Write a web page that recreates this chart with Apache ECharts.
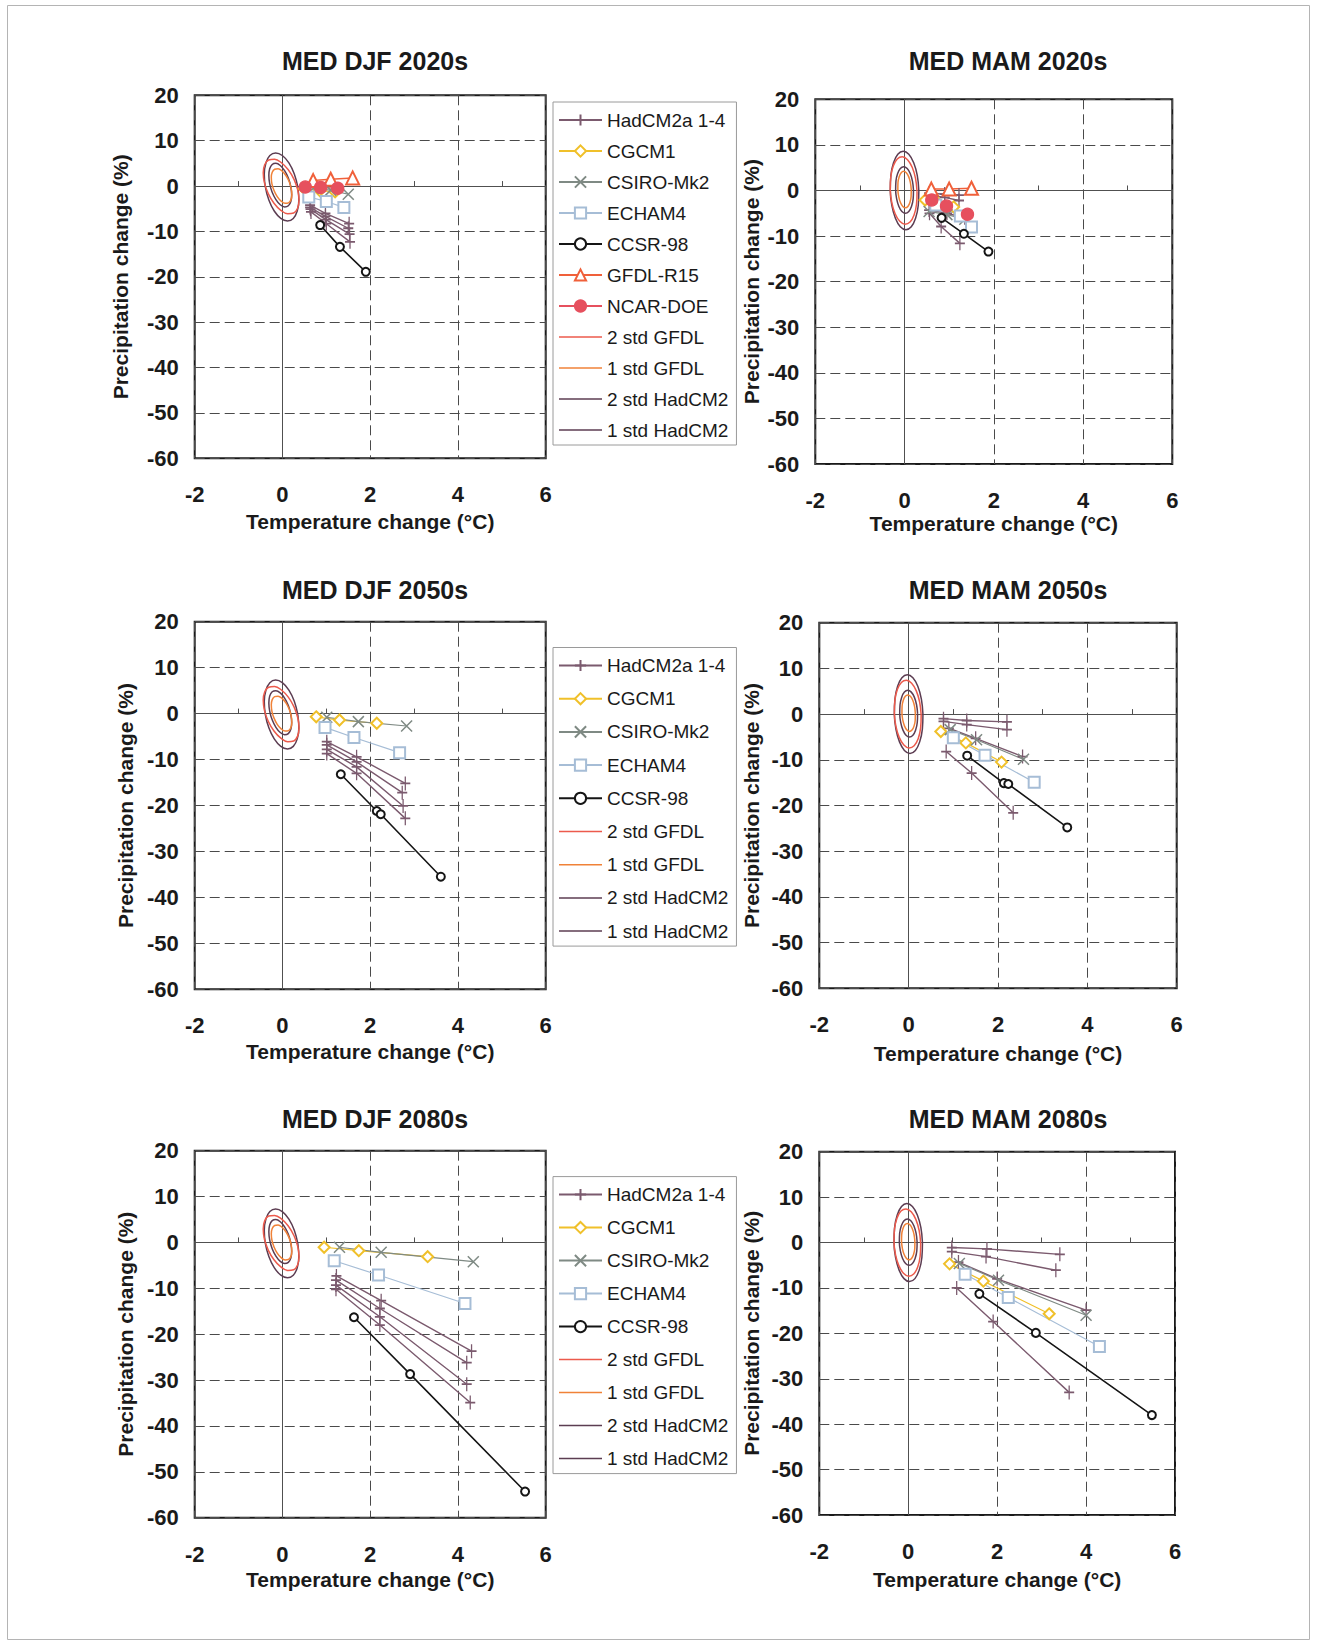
<!DOCTYPE html>
<html>
<head>
<meta charset="utf-8">
<script src="https://cdn.jsdelivr.net/npm/echarts@6/dist/echarts.min.js"></script>
<style>
  html, body { margin: 0; padding: 0; background: #ffffff; }
  #chart { width: 1317px; height: 1643px; }
</style>
</head>
<body>
<div id="chart"></div>
<script>
// ---- Axis ranges -------------------------------------------------------
const tempTicks = [-2, 0, 2, 4, 6];                             // temperature change, °C
const precipTicks = [-60, -50, -40, -30, -20, -10, 0, 10, 20];  // precipitation change, %

// ---- Natural-variability contours (temperature °C, precipitation %) ----
// Winter (DJF)
const djfStd2HadCM2 = [[0.35, -0.2], [0.374, -3.07], [0.337, -5.5], [0.247, -7.13], [0.115, -7.7], [-0.037, -7.13], [-0.187, -5.5], [-0.31, -3.07],
  [-0.39, -0.2], [-0.414, 2.67], [-0.377, 5.1], [-0.287, 6.73], [-0.155, 7.3], [-0.003, 6.73], [0.147, 5.1], [0.27, 2.67], [0.35, -0.2]];
const djfStd2GFDL = [[0.35, -0.9], [0.378, -3.14], [0.345, -4.91], [0.255, -5.95], [0.12, -6.1], [-0.037, -5.34], [-0.193, -3.78], [-0.324, -1.66],
  [-0.41, 0.7], [-0.438, 2.94], [-0.405, 4.71], [-0.315, 5.75], [-0.18, 5.9], [-0.023, 5.14], [0.133, 3.58], [0.264, 1.46], [0.35, -0.9]];
const djfStd1HadCM2 = [[0.19, -0.1], [0.21, -1.92], [0.191, -3.41], [0.134, -4.35], [0.05, -4.6], [-0.05, -4.12], [-0.149, -2.98], [-0.234, -1.36],
  [-0.29, 0.5], [-0.31, 2.32], [-0.291, 3.81], [-0.234, 4.75], [-0.15, 5.0], [-0.05, 4.52], [0.049, 3.38], [0.134, 1.76], [0.19, -0.1]];
const djfStd1GFDL = [[0.20, -0.5], [0.214, -1.92], [0.193, -3.04], [0.138, -3.7], [0.06, -3.8], [-0.03, -3.32], [-0.119, -2.33], [-0.192, -0.99],
  [-0.24, 0.5], [-0.254, 1.92], [-0.233, 3.04], [-0.178, 3.7], [-0.10, 3.8], [-0.01, 3.32], [0.079, 2.33], [0.152, 0.99], [0.20, -0.5]];
// Spring (MAM)
const mamStd2HadCM2 = [[0.32, 0], [0.307, -3.29], [0.247, -6.08], [0.151, -7.95], [0.03, -8.6], [-0.095, -7.95], [-0.205, -6.08], [-0.285, -3.29],
  [-0.32, 0], [-0.307, 3.29], [-0.247, 6.08], [-0.151, 7.95], [-0.03, 8.6], [0.095, 7.95], [0.205, 6.08], [0.285, 3.29], [0.32, 0]];
const mamStd2GFDL = [[0.28, -0.2], [0.268, -3.02], [0.213, -5.37], [0.123, -6.92], [0.01, -7.4], [-0.107, -6.76], [-0.211, -5.09], [-0.286, -2.65],
  [-0.32, 0.2], [-0.308, 3.02], [-0.253, 5.37], [-0.163, 6.92], [-0.05, 7.4], [0.067, 6.76], [0.171, 5.09], [0.246, 2.65], [0.28, -0.2]];
const mamStd1HadCM2 = [[0.20, 0.1], [0.193, -1.85], [0.155, -3.51], [0.095, -4.61], [0.02, -5.0], [-0.059, -4.61], [-0.127, -3.51], [-0.177, -1.85],
  [-0.20, 0.1], [-0.193, 2.05], [-0.155, 3.71], [-0.095, 4.81], [-0.02, 5.2], [0.059, 4.81], [0.127, 3.71], [0.177, 2.05], [0.20, 0.1]];
const mamStd1GFDL = [[0.15, 0.2], [0.147, -1.33], [0.12, -2.63], [0.075, -3.5], [0.02, -3.8], [-0.039, -3.5], [-0.092, -2.63], [-0.131, -1.33],
  [-0.15, 0.2], [-0.147, 1.73], [-0.12, 3.03], [-0.075, 3.9], [-0.02, 4.2], [0.039, 3.9], [0.092, 3.03], [0.131, 1.73], [0.15, 0.2]];

// ---- Model projections: [temperature change °C, precipitation change %] ----
// MED DJF 2020s
const djf2020HadCM2a = [
  [[0.63, -4.2], [0.98, -6.0], [1.52, -8.3]],
  [[0.63, -4.7], [0.98, -6.7], [1.50, -9.3]],
  [[0.64, -5.1], [0.99, -7.4], [1.53, -10.6]],
  [[0.65, -5.7], [1.00, -8.3], [1.54, -12.3]]
];
const djf2020CGCM1  = [[0.50, -0.6], [0.85, -1.0], [1.20, -1.3]];
const djf2020CSIRO  = [[0.70, -0.5], [1.10, -0.9], [1.50, -1.8]];
const djf2020ECHAM4 = [[0.60, -2.4], [1.00, -3.4], [1.40, -4.7]];
const djf2020CCSR   = [[0.86, -8.6], [1.31, -13.4], [1.90, -18.9]];
const djf2020GFDL   = [[0.70, 1.2], [1.10, 1.5], [1.60, 1.8]];
const djf2020NCAR   = [[0.52, -0.2], [0.87, -0.3], [1.26, -0.5]];

// MED MAM 2020s
const mam2020HadCM2a = [
  [[0.55, -0.6], [0.90, -0.8], [1.22, -1.0]],
  [[0.57, -1.1], [0.90, -1.5], [1.22, -2.2]],
  [[0.55, -4.3], [0.95, -5.0], [1.35, -6.0]],
  [[0.56, -5.0], [0.82, -7.9], [1.24, -11.6]]
];
const mam2020CGCM1  = [[0.46, -2.1], [0.75, -2.8], [1.10, -3.6]];
const mam2020CSIRO  = [[0.55, -4.6], [0.95, -5.3], [1.35, -6.3]];
const mam2020ECHAM4 = [[0.70, -3.2], [1.25, -5.6], [1.50, -8.0]];
const mam2020CCSR   = [[0.83, -6.0], [1.33, -9.5], [1.88, -13.4]];
const mam2020GFDL   = [[0.60, 0.3], [1.00, 0.3], [1.50, 0.5]];
const mam2020NCAR   = [[0.61, -2.1], [0.94, -3.4], [1.41, -5.2]];

// MED DJF 2050s
const djf2050HadCM2a = [
  [[1.01, -6.1], [1.69, -9.4], [2.80, -15.2]],
  [[1.01, -6.8], [1.69, -10.5], [2.73, -17.2]],
  [[1.01, -7.8], [1.69, -11.6], [2.75, -20.1]],
  [[1.01, -8.7], [1.69, -13.0], [2.80, -22.8]]
];
const djf2050CGCM1  = [[0.77, -0.7], [1.30, -1.4], [2.15, -2.1]];
const djf2050CSIRO  = [[1.01, -0.8], [1.73, -1.75], [2.83, -2.7]];
const djf2050ECHAM4 = [[0.97, -3.0], [1.63, -5.2], [2.67, -8.5]];
const djf2050CCSR   = [[1.33, -13.2], [2.15, -21.2], [2.24, -21.9], [3.61, -35.5]];

// MED MAM 2050s
const mam2050HadCM2a = [
  [[0.78, -1.0], [1.30, -1.4], [2.20, -1.7]],
  [[0.78, -1.6], [1.30, -2.3], [2.20, -3.4]],
  [[0.90, -3.1], [1.50, -5.3], [2.55, -9.3]],
  [[0.84, -8.2], [1.41, -12.9], [2.34, -21.6]]
];
const mam2050CGCM1  = [[0.72, -3.8], [1.28, -6.3], [2.08, -10.5]];
const mam2050CSIRO  = [[0.93, -3.4], [1.52, -5.6], [2.57, -9.9]];
const mam2050ECHAM4 = [[1.00, -5.2], [1.71, -9.0], [2.81, -14.9]];
const mam2050CCSR   = [[1.31, -9.1], [2.13, -15.1], [2.23, -15.3], [3.55, -24.8]];

// MED DJF 2080s
const djf2080HadCM2a = [
  [[1.23, -7.3], [2.25, -12.7], [4.31, -23.7]],
  [[1.22, -8.2], [2.22, -14.4], [4.20, -26.2]],
  [[1.22, -9.3], [2.22, -16.2], [4.20, -30.9]],
  [[1.22, -10.2], [2.22, -18.0], [4.28, -34.9]]
];
const djf2080CGCM1  = [[0.95, -1.05], [1.74, -1.8], [3.31, -3.1]];
const djf2080CSIRO  = [[1.30, -1.05], [2.25, -2.15], [4.35, -4.2]];
const djf2080ECHAM4 = [[1.18, -4.0], [2.19, -7.1], [4.16, -13.3]];
const djf2080CCSR   = [[1.63, -16.3], [2.91, -28.7], [5.53, -54.3]];

// MED MAM 2080s
const mam2080HadCM2a = [
  [[0.98, -1.1], [1.77, -1.4], [3.41, -2.6]],
  [[0.98, -2.0], [1.75, -3.1], [3.32, -6.1]],
  [[1.13, -4.3], [2.00, -8.0], [4.00, -14.9]],
  [[1.09, -10.0], [1.91, -17.4], [3.62, -33.0]]
];
const mam2080CGCM1  = [[0.93, -4.7], [1.69, -8.5], [3.17, -15.7]];
const mam2080CSIRO  = [[1.15, -4.6], [2.03, -8.3], [4.00, -16.0]];
const mam2080ECHAM4 = [[1.28, -7.0], [2.25, -12.1], [4.30, -22.9]];
const mam2080CCSR   = [[1.60, -11.3], [2.87, -19.9], [5.48, -38.0]];

// ---- Legend entries ----------------------------------------------------
const legendAll = ['HadCM2a 1-4', 'CGCM1', 'CSIRO-Mk2', 'ECHAM4', 'CCSR-98', 'GFDL-R15', 'NCAR-DOE',
                   '2 std GFDL', '1 std GFDL', '2 std HadCM2', '1 std HadCM2'];
const legendNoR15 = ['HadCM2a 1-4', 'CGCM1', 'CSIRO-Mk2', 'ECHAM4', 'CCSR-98',
                     '2 std GFDL', '1 std GFDL', '2 std HadCM2', '1 std HadCM2'];

// ---- Styling -----------------------------------------------------------
const FONT = "'Liberation Sans', Arial, Helvetica, sans-serif";
const INK = '#1a1a1a';

const PLUS = 'path://M0,-6L0,6M-4,0L4,0';
const CROSS = 'path://M-5,-5L5,5M-5,5L5,-5';
const BAR = 'path://M0,0H40V1.4H0Z';

const styles = {
  'HadCM2a 1-4': { color: '#7b5a6e', width: 1.4, symbol: PLUS, size: [10, 14], stroke: true },
  'CGCM1':       { color: '#f0c02a', width: 1.2, symbol: 'emptyDiamond', size: 11 },
  'CSIRO-Mk2':   { color: '#7f8a84', width: 1.2, symbol: CROSS, size: 11, stroke: true },
  'ECHAM4':      { color: '#a6bdd6', width: 1.2, symbol: 'emptyRect', size: 11 },
  'CCSR-98':     { color: '#151515', width: 1.6, symbol: 'emptyCircle', size: 8 },
  'GFDL-R15':    { color: '#f0603a', width: 1.5, symbol: 'emptyTriangle', size: 13 },
  'NCAR-DOE':    { color: '#e6505e', width: 1.5, symbol: 'circle', size: 12 },
  '2 std GFDL':  { color: '#ec5a4c', width: 1.5 },
  '1 std GFDL':  { color: '#f08238', width: 1.5 },
  '2 std HadCM2':{ color: '#5c3d52', width: 1.5 },
  '1 std HadCM2':{ color: '#5c3d52', width: 1.5 }
};

// ---- Panel layout ------------------------------------------------------
const panels = [
  { title: 'MED DJF 2020s', grid: { left: 194.7, top: 95.3, width: 351, height: 363 },
    titleX: 375, titleY: 61, yNameX: 120.5, xNameY: 521,
    contours: [djfStd2HadCM2, djfStd2GFDL, djfStd1HadCM2, djfStd1GFDL],
    had: djf2020HadCM2a, cgcm: djf2020CGCM1, csiro: djf2020CSIRO, echam: djf2020ECHAM4, ccsr: djf2020CCSR,
    gfdl: djf2020GFDL, ncar: djf2020NCAR,
    legend: { data: legendAll, top: 102, gap: 11 } },
  { title: 'MED MAM 2020s', grid: { left: 815.3, top: 99.3, width: 357, height: 364.7 },
    titleX: 1008, titleY: 61, yNameX: 751, xNameY: 523,
    contours: [mamStd2HadCM2, mamStd2GFDL, mamStd1HadCM2, mamStd1GFDL],
    had: mam2020HadCM2a, cgcm: mam2020CGCM1, csiro: mam2020CSIRO, echam: mam2020ECHAM4, ccsr: mam2020CCSR,
    gfdl: mam2020GFDL, ncar: mam2020NCAR },
  { title: 'MED DJF 2050s', grid: { left: 194.7, top: 621.7, width: 351, height: 367.6 },
    titleX: 375, titleY: 590, yNameX: 125.7, xNameY: 1051,
    contours: [djfStd2HadCM2, djfStd2GFDL, djfStd1HadCM2, djfStd1GFDL],
    had: djf2050HadCM2a, cgcm: djf2050CGCM1, csiro: djf2050CSIRO, echam: djf2050ECHAM4, ccsr: djf2050CCSR,
    legend: { data: legendNoR15, top: 647.5, gap: 13.2 } },
  { title: 'MED MAM 2050s', grid: { left: 819.3, top: 622.7, width: 357.4, height: 365.6 },
    titleX: 1008, titleY: 590, yNameX: 751, xNameY: 1053,
    contours: [mamStd2HadCM2, mamStd2GFDL, mamStd1HadCM2, mamStd1GFDL],
    had: mam2050HadCM2a, cgcm: mam2050CGCM1, csiro: mam2050CSIRO, echam: mam2050ECHAM4, ccsr: mam2050CCSR },
  { title: 'MED DJF 2080s', grid: { left: 194.7, top: 1150.7, width: 351, height: 367 },
    titleX: 375, titleY: 1119, yNameX: 125.7, xNameY: 1579,
    contours: [djfStd2HadCM2, djfStd2GFDL, djfStd1HadCM2, djfStd1GFDL],
    had: djf2080HadCM2a, cgcm: djf2080CGCM1, csiro: djf2080CSIRO, echam: djf2080ECHAM4, ccsr: djf2080CCSR,
    legend: { data: legendNoR15, top: 1176.6, gap: 13 } },
  { title: 'MED MAM 2080s', grid: { left: 819.3, top: 1151.7, width: 355.7, height: 363.3 },
    titleX: 1008, titleY: 1119, yNameX: 751, xNameY: 1579,
    contours: [mamStd2HadCM2, mamStd2GFDL, mamStd1HadCM2, mamStd1GFDL],
    had: mam2080HadCM2a, cgcm: mam2080CGCM1, csiro: mam2080CSIRO, echam: mam2080ECHAM4, ccsr: mam2080CCSR }
];

const contourNames = ['2 std HadCM2', '2 std GFDL', '1 std HadCM2', '1 std GFDL'];

function modelSeries(name, data, k) {
  const s = styles[name];
  const item = { color: s.color, borderColor: s.color };
  if (s.symbol) item.borderWidth = s.stroke ? 1.5 : 1.4;
  return {
    type: 'line', name, data,
    xAxisIndex: 2 * k, yAxisIndex: 2 * k,
    symbol: s.symbol || 'none', symbolSize: s.size || 0, showSymbol: !!s.symbol,
    smooth: false,
    lineStyle: { color: s.color, width: s.width },
    itemStyle: item,
    emphasis: { disabled: true },
    silent: true, animation: false, z: 3
  };
}

// legend items: plain line sample for the contour entries
function legendItems(names) {
  return names.map(n => styles[n].symbol ? { name: n } : { name: n, icon: BAR });
}

const grids = [], xAxes = [], yAxes = [], series = [], legends = [], graphics = [];
const tickMin = tempTicks[0], tickMax = tempTicks[tempTicks.length - 1];
const pMin = precipTicks[0], pMax = precipTicks[precipTicks.length - 1];

panels.forEach((p, k) => {
  grids.push(Object.assign({ show: true, borderColor: INK, borderWidth: 2, backgroundColor: 'transparent' }, p.grid));

  const labelStyle = { fontFamily: FONT, fontSize: 22, fontWeight: 'bold', color: INK };
  const dashed = { show: true, lineStyle: { color: '#4a4a4a', width: 1, type: [10, 5] } };

  // labelled axes with dashed grid lines
  xAxes.push({ gridIndex: k, type: 'value', min: tickMin, max: tickMax, interval: tempTicks[1] - tempTicks[0],
    position: 'bottom', axisLine: { show: false, onZero: false }, axisTick: { show: false },
    axisLabel: Object.assign({ margin: 25.5 }, labelStyle), splitLine: dashed });
  // zero line along precipitation = 0, with small ticks at odd degrees
  xAxes.push({ gridIndex: k, type: 'value', min: tickMin, max: tickMax, interval: tempTicks[1] - tempTicks[0],
    axisLine: { show: true, onZero: true, onZeroAxisIndex: 2 * k, lineStyle: { color: '#505050', width: 1 } },
    axisTick: { show: false }, axisLabel: { show: false }, splitLine: { show: false },
    minorTick: { show: true, splitNumber: 2, length: 5, lineStyle: { color: '#505050', width: 1 } } });

  yAxes.push({ gridIndex: k, type: 'value', min: pMin, max: pMax, interval: 10,
    position: 'left', axisLine: { show: false, onZero: false }, axisTick: { show: false },
    axisLabel: Object.assign({ margin: 16 }, labelStyle), splitLine: dashed });
  // zero line along temperature = 0
  yAxes.push({ gridIndex: k, type: 'value', min: pMin, max: pMax, interval: 10,
    axisLine: { show: true, onZero: true, onZeroAxisIndex: 2 * k, lineStyle: { color: '#505050', width: 1 } },
    axisTick: { show: false }, axisLabel: { show: false }, splitLine: { show: false } });

  // variability contours
  p.contours.forEach((pts, i) => {
    const name = contourNames[i];
    series.push({ type: 'line', name, data: pts, xAxisIndex: 2 * k, yAxisIndex: 2 * k,
      smooth: 0.4, symbol: 'none', showSymbol: false,
      lineStyle: { color: styles[name].color, width: styles[name].width },
      itemStyle: { color: styles[name].color },
      silent: true, animation: false, z: 2 });
  });

  // model runs
  p.had.forEach(run => series.push(modelSeries('HadCM2a 1-4', run, k)));
  series.push(modelSeries('CGCM1', p.cgcm, k));
  series.push(modelSeries('CSIRO-Mk2', p.csiro, k));
  series.push(modelSeries('ECHAM4', p.echam, k));
  series.push(modelSeries('CCSR-98', p.ccsr, k));
  if (p.gfdl) series.push(modelSeries('GFDL-R15', p.gfdl, k));
  if (p.ncar) series.push(modelSeries('NCAR-DOE', p.ncar, k));

  if (p.legend) {
    legends.push({ orient: 'vertical', left: 553, top: p.legend.top, data: legendItems(p.legend.data),
      padding: [8, 8, 5, 5], itemGap: p.legend.gap, itemWidth: 43, itemHeight: 14,
      borderColor: '#9a9a9a', borderWidth: 1, backgroundColor: '#ffffff', selectedMode: false,
      textStyle: { fontFamily: FONT, fontSize: 19, color: INK, lineHeight: 20 } });
  }

  const cx = p.grid.left + p.grid.width / 2;
  const cy = p.grid.top + p.grid.height / 2;
  graphics.push({ type: 'text', x: p.titleX, y: p.titleY, silent: true,
    style: { text: p.title, fontFamily: FONT, fontSize: 25, fontWeight: 'bold', fill: INK, align: 'center', verticalAlign: 'middle' } });
  graphics.push({ type: 'text', x: cx, y: p.xNameY, silent: true,
    style: { text: 'Temperature change (°C)', fontFamily: FONT, fontSize: 21, fontWeight: 'bold', fill: INK, align: 'center', verticalAlign: 'middle' } });
  graphics.push({ type: 'text', x: p.yNameX, y: cy, rotation: Math.PI / 2, silent: true,
    style: { text: 'Precipitation change (%)', fontFamily: FONT, fontSize: 21, fontWeight: 'bold', fill: INK, align: 'center', verticalAlign: 'middle' } });
});

// page frame
graphics.unshift({ type: 'rect', silent: true, z: -10,
  shape: { x: 7.5, y: 5.5, width: 1302, height: 1634 },
  style: { fill: 'none', stroke: '#b4b4b4', lineWidth: 1 } });

const chart = echarts.init(document.getElementById('chart'), null, { renderer: 'svg', width: 1317, height: 1643 });
chart.setOption({
  backgroundColor: '#ffffff',
  animation: false,
  textStyle: { fontFamily: FONT },
  grid: grids,
  xAxis: xAxes,
  yAxis: yAxes,
  legend: legends,
  series: series,
  graphic: { elements: graphics }
});
</script>
</body>
</html>
